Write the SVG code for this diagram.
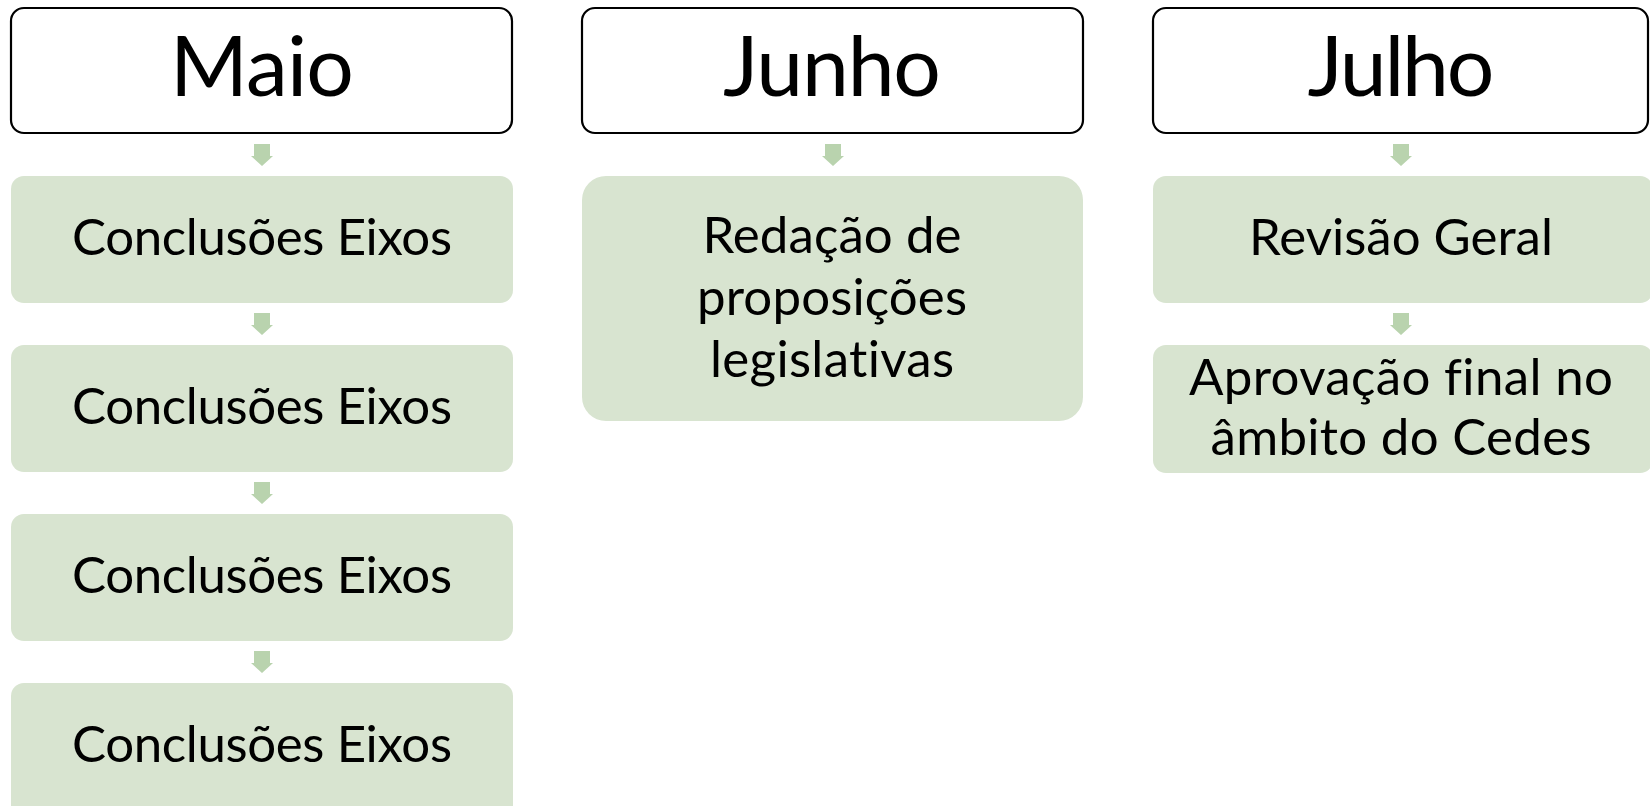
<svg xmlns="http://www.w3.org/2000/svg" width="1650" height="806" viewBox="0 0 1650 806">
<defs>
<style>
.hdr{fill:#ffffff;stroke:#000000;stroke-width:2.2}
.box{fill:#d8e4d0}
.arr{fill:#b9d3ae}
.ht{font-family:Lato,"Liberation Sans",sans-serif;font-size:84px;fill:#000;text-anchor:middle;font-variant-ligatures:none}
.bt{font-family:Lato,"Liberation Sans",sans-serif;font-size:51px;fill:#000;text-anchor:middle;font-variant-ligatures:none}
</style>
</defs>
<rect width="1650" height="806" fill="#ffffff"/>
<g id="connectors">
<path class="arr" d="M254 144h16v12h3l-11 10l-11-10h3z"/>
<path class="arr" d="M254 313h16v12h3l-11 10l-11-10h3z"/>
<path class="arr" d="M254 482h16v12h3l-11 10l-11-10h3z"/>
<path class="arr" d="M254 651h16v12h3l-11 10l-11-10h3z"/>
<path class="arr" d="M825 144h16v12h3l-11 10l-11-10h3z"/>
<path class="arr" d="M1393 144h16v12h3l-11 10l-11-10h3z"/>
<path class="arr" d="M1393 313h16v12h3l-11 10l-11-10h3z"/>
</g>
<g id="h-maio">
<rect class="hdr" x="11" y="8" width="501" height="125" rx="13"/>
<text class="ht" x="262" y="96" textLength="184">Maio</text>
</g>
<g id="h-junho">
<rect class="hdr" x="582" y="8" width="501" height="125" rx="13"/>
<text class="ht" x="832" y="96" textLength="218">Junho</text>
</g>
<g id="h-julho">
<rect class="hdr" x="1153" y="8" width="495" height="125" rx="13"/>
<text class="ht" x="1401" y="96" textLength="187">Julho</text>
</g>
<g id="b1">
<rect class="box" x="11" y="176" width="502" height="127" rx="13"/>
<text class="bt" x="262" y="255" textLength="380">Conclusões Eixos</text>
</g>
<g id="b2">
<rect class="box" x="11" y="345" width="502" height="127" rx="13"/>
<text class="bt" x="262" y="424" textLength="380">Conclusões Eixos</text>
</g>
<g id="b3">
<rect class="box" x="11" y="514" width="502" height="127" rx="13"/>
<text class="bt" x="262" y="593" textLength="380">Conclusões Eixos</text>
</g>
<g id="b4">
<rect class="box" x="11" y="683" width="502" height="135" rx="13"/>
<text class="bt" x="262" y="762" textLength="380">Conclusões Eixos</text>
</g>
<g id="b5">
<rect class="box" x="582" y="176" width="501" height="245" rx="24"/>
<text class="bt" x="832" y="253" textLength="259">Redação de</text>
<text class="bt" x="832" y="315" textLength="270">proposições</text>
<text class="bt" x="832" y="377" textLength="244">legislativas</text>
</g>
<g id="b6">
<rect class="box" x="1153" y="176" width="500" height="127" rx="13"/>
<text class="bt" x="1401" y="255" textLength="304">Revisão Geral</text>
</g>
<g id="b7">
<rect class="box" x="1153" y="345" width="500" height="128" rx="13"/>
<text class="bt" x="1401" y="395" textLength="424">Aprovação final no</text>
<text class="bt" x="1401" y="455" textLength="381">âmbito do Cedes</text>
</g>
</svg>
